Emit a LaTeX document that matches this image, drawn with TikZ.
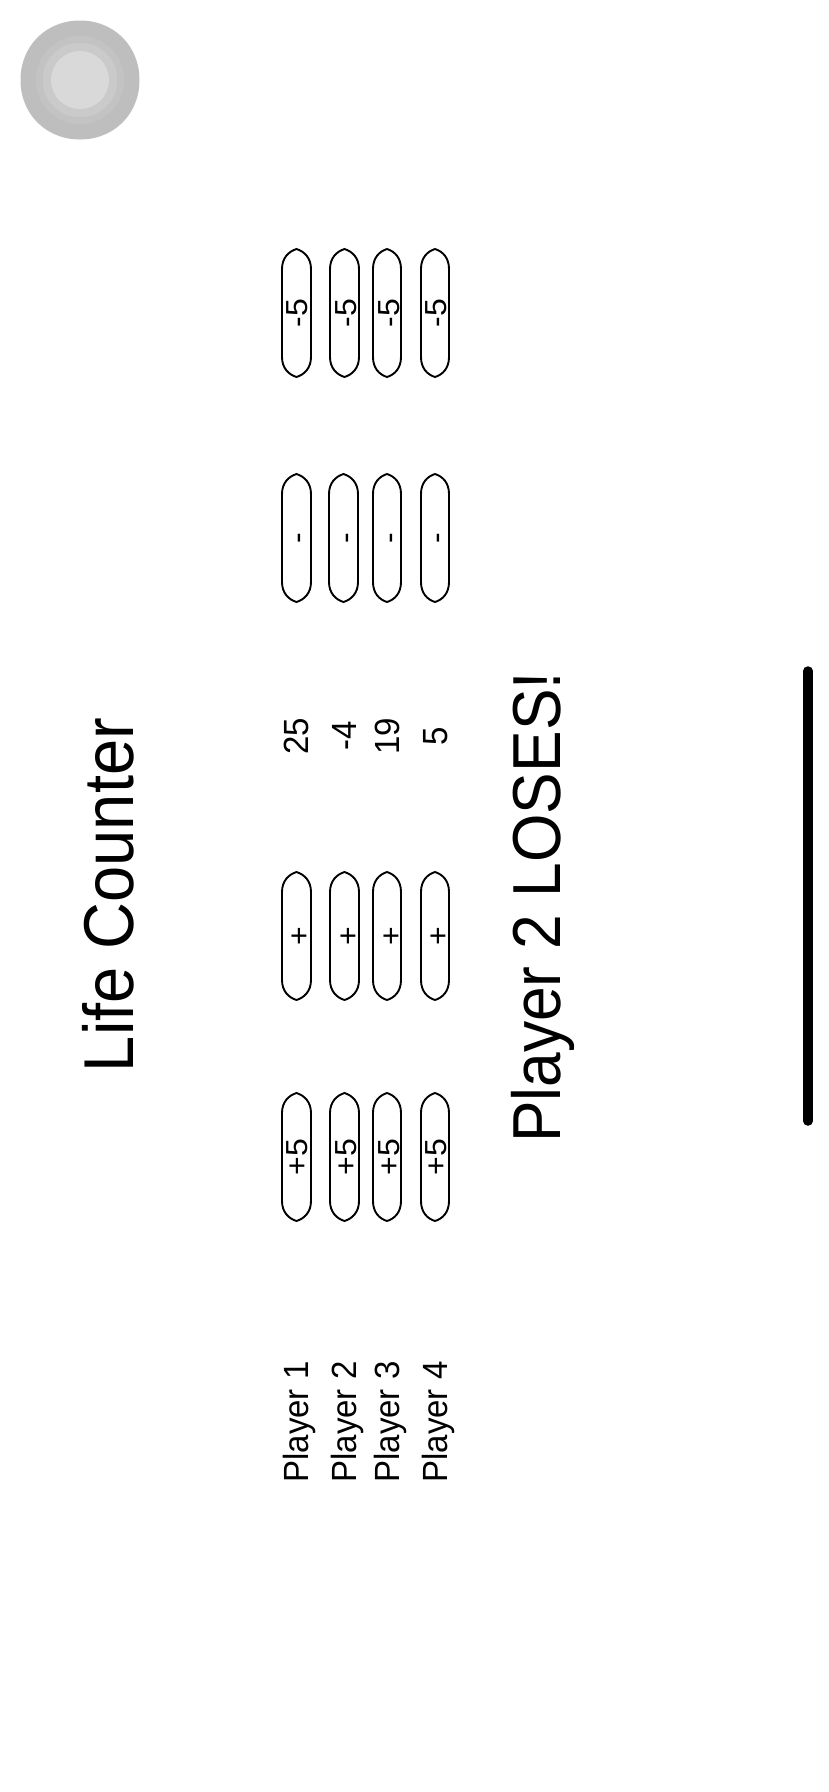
\documentclass[tikz,border=0pt]{standalone}
\usepackage{fontspec}
\setmainfont{Liberation Sans}
\definecolor{ringa}{HTML}{BEBEBE}
\definecolor{ringb}{HTML}{C3C3C3}
\definecolor{ringc}{HTML}{CACACA}
\definecolor{ringd}{HTML}{D9D9D9}
\tikzset{x=1pt,y=-1pt,
  txt/.style={anchor=base,rotate=90,inner sep=0pt,outer sep=0pt,text=black},
  btnshape/.style={draw=black,line width=1.9pt,fill=white},
  btntext/.style={txt,font=\fontsize{32}{32}\selectfont,yscale=0.95},
  rowtext/.style={txt,font=\fontsize{33}{33}\selectfont,yscale=1.06},
  titletext/.style={txt,font=\fontsize{65}{65}\selectfont,yscale=1.086},
  losetext/.style={txt,font=\fontsize{62.3}{62.3}\selectfont,yscale=1.09},
}
\newcommand{\lifebtn}[7]{% name, x0, x1, y0, y1, label baseline x, label
  \draw[btnshape] ({#2},{#4+20}) .. controls ({#2},{#4+9}) and ({(#2+#3)/2-8},{#4+2.5}) .. ({(#2+#3)/2},{#4})
    .. controls ({(#2+#3)/2+8},{#4+2.5}) and ({#3},{#4+9}) .. ({#3},{#4+20})
    -- ({#3},{#5-20}) .. controls ({#3},{#5-9}) and ({(#2+#3)/2+8},{#5-2.5}) .. ({(#2+#3)/2},{#5})
    .. controls ({(#2+#3)/2-8},{#5-2.5}) and ({#2},{#5-9}) .. ({#2},{#5-20}) -- cycle;
  \node[btntext] (#1) at ({#6},{(#4+#5)/2}) {#7};
}
\newcommand{\roundel}[3]{% r, k, colour
  \fill[#3] (80-#1,80) .. controls (80-#1,80-#1*#2) and (80-#1*#2,80-#1) .. (80,80-#1)
    .. controls (80+#1*#2,80-#1) and (80+#1,80-#1*#2) .. (80+#1,80)
    .. controls (80+#1,80+#1*#2) and (80+#1*#2,80+#1) .. (80,80+#1)
    .. controls (80-#1*#2,80+#1) and (80-#1,80+#1*#2) .. (80-#1,80) -- cycle;
}
\begin{document}
\begin{tikzpicture}
\useasboundingbox (0,0) rectangle (828,1792);
\fill[white] (0,0) rectangle (828,1792);
% assistive touch
\roundel{59.5}{0.572}{ringa}
\roundel{44}{0.5523}{ringb}
\roundel{37.3}{0.5523}{ringc}
\roundel{29}{0.5523}{ringd}
% home bar
\draw[line width=9.5pt,line cap=round] (808,671) -- (808,1121);
% titles
\node[titletext] (title) at (133.5,895) {Life Counter};
\node[losetext] (loser) at (560,907.5) {Player 2 LOSES!};
% buttons -5
\lifebtn{ma}{282}{311}{249}{377}{307.7}{-5}
\lifebtn{mb}{330}{359}{249}{377}{356}{-5}
\lifebtn{mc}{373}{401}{249}{377}{399.3}{-5}
\lifebtn{md}{421}{449}{249}{377}{446.7}{-5}
% buttons -
\lifebtn{na}{282}{311}{474}{602}{307.7}{-}
\lifebtn{nb}{329}{358}{474}{602}{355}{-}
\lifebtn{nc}{373}{401}{474}{602}{399.3}{-}
\lifebtn{nd}{421}{449}{474}{602}{446.7}{-}
% scores
\node[rowtext] (sa) at (308,736) {25};
\node[rowtext] (sb) at (356.5,736) {-4};
\node[rowtext] (sc) at (399,736) {19};
\node[rowtext] (sd) at (447,736) {5};
% buttons +
\lifebtn{pa}{282}{311}{872}{1000}{309.5}{+}
\lifebtn{pb}{330}{359}{872}{1000}{358}{+}
\lifebtn{pc}{373}{401}{872}{1000}{401}{+}
\lifebtn{pd}{421}{449}{872}{1000}{448.5}{+}
% buttons +5
\lifebtn{qa}{282}{311}{1093}{1221}{307.7}{+5}
\lifebtn{qb}{330}{359}{1093}{1221}{356}{+5}
\lifebtn{qc}{373}{401}{1093}{1221}{399.3}{+5}
\lifebtn{qd}{421}{449}{1093}{1221}{446.7}{+5}
% player names
\node[rowtext] (pl1) at (308,1422) {Player 1};
\node[rowtext] (pl2) at (356.5,1422) {Player 2};
\node[rowtext] (pl3) at (399,1422) {Player 3};
\node[rowtext] (pl4) at (447,1422) {Player 4};
\end{tikzpicture}
\end{document}
